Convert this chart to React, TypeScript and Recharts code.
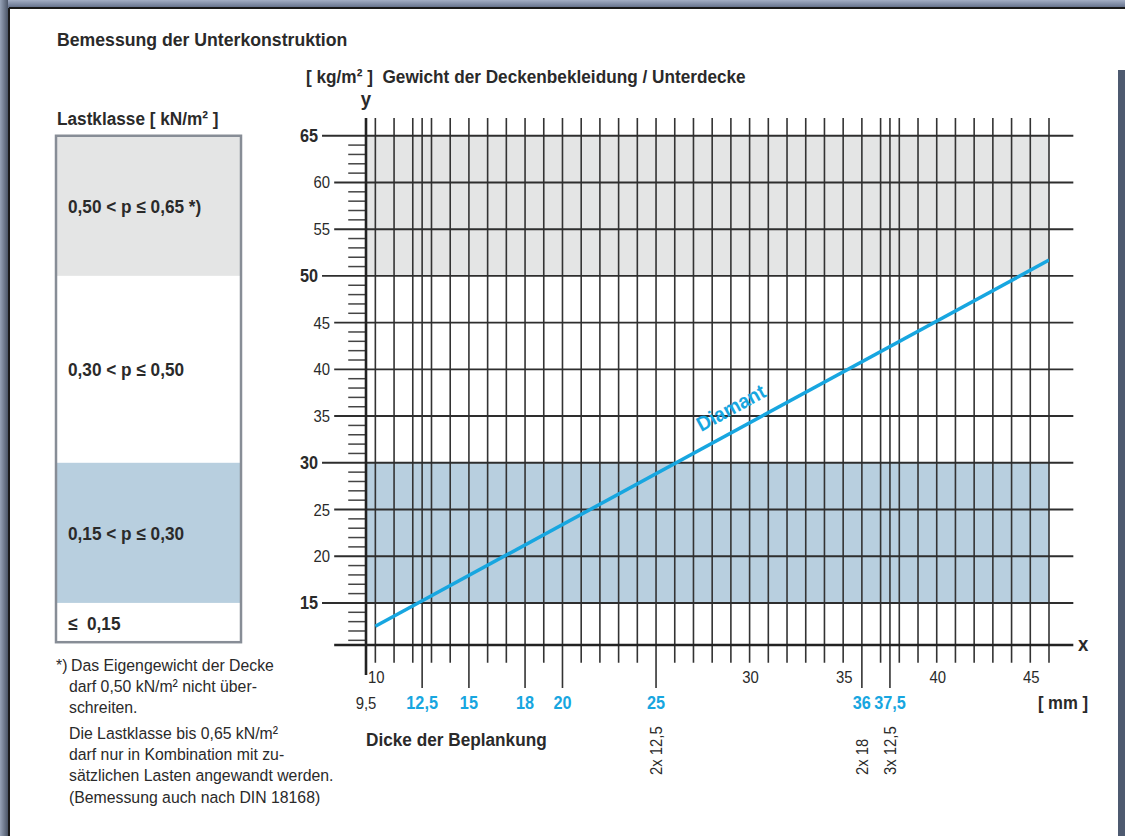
import React from "react";
import { ComposedChart, Line, XAxis, YAxis, ReferenceLine, ReferenceArea, ReferenceDot } from "recharts";

const FONT = '"Liberation Sans", Arial, sans-serif';
const SQUEEZE = 0.93; // the original uses a slightly condensed grotesk
const INK = "#2a2a2a";
const BLUE = "#17a6e0";
const GRAY_BAND = "#e4e5e5";
const BLUE_BAND = "#b8cfdf";

// Diamant: Dicke [mm] -> Gewicht [kg/m²]
const diamantData = [
  { mm: 10, kg: 12.5 },
  { mm: 46, kg: 51.7 },
];

// vertical grid (mm)
const gridMm = [10, 11, 12, 12.5, 13, 14, 15, 16, 17, 18, 19, 20, 21, 22, 23, 24, 25, 26, 27, 28, 29, 30,
  31, 32, 33, 34, 35, 36, 37, 37.5, 38, 39, 40, 41, 42, 43, 44, 45, 46];
const plateMm = [12.5, 15, 18, 20, 25, 36, 37.5];
const plateLabels = ["12,5", "15", "18", "20", "25", "36", "37,5"];
const plainMm = [10, 30, 35, 40, 45];
const layerLabels: Record<string, string> = { "25": "2x 12,5", "36": "2x 18", "37.5": "3x 12,5" };
const mmTicks = [9.5, 10, 12.5, 15, 18, 20, 25, 30, 35, 36, 37.5, 40, 45];

// y axis (kg/m²)
const kgTicks = [15, 20, 25, 30, 35, 40, 45, 50, 55, 60, 65];
const kgBold = [15, 30, 50, 65];
const kgMinor = [11, 12, 13, 14, 16, 17, 18, 19, 21, 22, 23, 24, 26, 27, 28, 29, 31, 32, 33, 34, 36, 37, 38, 39,
  41, 42, 43, 44, 46, 47, 48, 49, 51, 52, 53, 54, 56, 57, 58, 59, 61, 62, 63, 64];

const lastklassen = [
  { label: "0,50 < p ≤ 0,65 *)", from: 50, to: 65, fill: GRAY_BAND },
  { label: "0,30 < p ≤ 0,50", from: 30, to: 50, fill: "#ffffff" },
  { label: "0,15 < p ≤ 0,30", from: 15, to: 30, fill: BLUE_BAND },
  { label: "≤\u00a0\u00a00,15", from: 10.8, to: 15, fill: "#ffffff" },
];

const footnote = [
  "Das Eigengewicht der Decke",
  "darf 0,50 kN/m² nicht über-",
  "schreiten.",
  "Die Lastklasse bis 0,65 kN/m²",
  "darf nur in Kombination mit zu-",
  "sätzlichen Lasten angewandt werden.",
  "(Bemessung auch nach DIN 18168)",
];
const footBase = [671, 692, 713, 739, 760, 781, 803];

// chart frame
const W = 1125;
const H = 836;
const PLOT_L = 366;
const PLOT_R = 1049;
const PLOT_T = 118;
const PLOT_B = 645;
const X_DOM: [number, number] = [9.5, 46];
const Y_DOM: [number, number] = [10.5, 66.9];

const kgToPx = (v: number) => PLOT_B - ((v - Y_DOM[0]) / (Y_DOM[1] - Y_DOM[0])) * (PLOT_B - PLOT_T);

type TProps = {
  x: number;
  y: number;
  size?: number;
  bold?: boolean;
  anchor?: "start" | "middle" | "end";
  fill?: string;
  rotate?: number;
  baseline?: string;
  children: React.ReactNode;
};

// condensed text: horizontal squeeze along the text direction
const T = ({ x, y, size = 16, bold, anchor = "start", fill = INK, rotate, baseline, children }: TProps) => (
  <text
    transform={`translate(${x} ${y})${rotate ? ` rotate(${rotate})` : ""} scale(${SQUEEZE} 1)`}
    fontSize={size}
    fontWeight={bold ? "bold" : "normal"}
    textAnchor={anchor}
    dominantBaseline={baseline}
    fill={fill}
    fontFamily={FONT}
  >
    {children}
  </text>
);

const MmTick = ({ x, y, payload }: any) => {
  const v = payload.value;
  if (plainMm.includes(v)) {
    return <T x={x + 1} y={y + 38} anchor="middle">{v}</T>;
  }
  if (v === 9.5) {
    return <T x={x} y={y + 64} anchor="middle">9,5</T>;
  }
  const i = plateMm.indexOf(v);
  const layer = layerLabels[String(v)];
  return (
    <g>
      <T x={x} y={y + 64} anchor="middle" size={17.5} bold fill={BLUE}>{plateLabels[i]}</T>
      {layer && <T x={x + 6} y={y + 130} rotate={-90}>{layer}</T>}
    </g>
  );
};

const KgTick = ({ x, y, payload }: any) => {
  const v = payload.value;
  const bold = kgBold.includes(v);
  return (
    <T x={bold ? x - 48 : x - 36} y={y + 6} anchor="end" size={bold ? 17.5 : 16} bold={bold}>
      {v}
    </T>
  );
};

const DiamantLabel = ({ cx, cy }: any) => (
  <T x={cx} y={cy} rotate={-28.6} anchor="middle" baseline="central" size={20.5} bold fill={BLUE}>
    Diamant
  </T>
);

const Backdrop = () => (
  <svg width={W} height={H} style={{ position: "absolute", left: 0, top: 0 }}>
    <defs>
      <linearGradient id="lb" x1="0" x2="1" y1="0" y2="0">
        <stop offset="0" stopColor="#97a3b8" />
        <stop offset="1" stopColor="#4b5567" />
      </linearGradient>
      <linearGradient id="tb" x1="0" x2="0" y1="0" y2="1">
        <stop offset="0" stopColor="#a3aec4" />
        <stop offset="1" stopColor="#5e6b86" />
      </linearGradient>
    </defs>
    <rect x={0} y={0} width={W} height={H} fill="#ffffff" />
    <rect x={0} y={0} width={W} height={8} fill="url(#tb)" />
    <rect x={0} y={0} width={8} height={H} fill="url(#lb)" />
    <rect x={W - 7} y={70} width={7} height={H - 70} fill="#4e5a70" />
    <line x1={9} y1={8} x2={W} y2={8} stroke="#1a1a1a" strokeWidth={2} />
    <line x1={9} y1={8} x2={9} y2={H} stroke="#1a1a1a" strokeWidth={2} />

    <T x={57} y={46} size={19} bold>Bemessung der Unterkonstruktion</T>
    <T x={57} y={125} size={18.5} bold>Lastklasse [ kN/m² ]</T>
    <T x={306} y={83} size={18.5} bold>{"[ kg/m² ]\u00a0\u00a0Gewicht der Deckenbekleidung / Unterdecke"}</T>
    <T x={366} y={106} size={20} bold anchor="middle">y</T>
    <T x={1078} y={651} size={20} bold>x</T>
    <T x={1063} y={709} size={18} bold anchor="middle">[ mm ]</T>
    <T x={366} y={746} size={18.5} bold>Dicke der Beplankung</T>

    {lastklassen.map((k) => (
      <rect key={k.label} x={56} y={kgToPx(k.to)} width={185} height={kgToPx(k.from) - kgToPx(k.to)} fill={k.fill} />
    ))}
    <rect x={56} y={kgToPx(65)} width={185} height={kgToPx(10.8) - kgToPx(65)} fill="none" stroke="#878d96" strokeWidth={2.5} />
    {lastklassen.map((k) => (
      <T key={k.label + "t"} x={68} y={(kgToPx(k.from) + kgToPx(k.to)) / 2 + 7} size={18.5} bold>
        {k.label}
      </T>
    ))}

    <T x={56} y={footBase[0]} size={17}>*)</T>
    {footnote.map((t, i) => (
      <T key={t} x={i === 0 ? 71 : 69} y={footBase[i]} size={17}>{t}</T>
    ))}
  </svg>
);

export default function App() {
  return (
    <div style={{ position: "absolute", left: 0, top: 0, width: W, height: H, overflow: "hidden" }}>
      <Backdrop />
      <div style={{ position: "absolute", left: 0, top: 0 }}>
        <ComposedChart
          width={W}
          height={H}
          data={diamantData}
          margin={{ top: PLOT_T, right: W - PLOT_R, bottom: 0, left: 0 }}
        >
          <XAxis
            dataKey="mm"
            type="number"
            domain={X_DOM}
            allowDataOverflow
            ticks={mmTicks}
            interval={0}
            height={H - PLOT_B}
            tickSize={0}
            tickMargin={0}
            axisLine={false}
            tickLine={false}
            tick={<MmTick />}
          />
          <YAxis
            type="number"
            domain={Y_DOM}
            allowDataOverflow
            ticks={kgTicks}
            interval={0}
            width={PLOT_L}
            tickSize={0}
            tickMargin={0}
            axisLine={false}
            tickLine={false}
            tick={<KgTick />}
          />

          <ReferenceArea x1={9.5} x2={46} y1={50} y2={65} fill={GRAY_BAND} fillOpacity={1} stroke="none" ifOverflow="visible" />
          <ReferenceArea x1={9.5} x2={46} y1={15} y2={30} fill={BLUE_BAND} fillOpacity={1} stroke="none" ifOverflow="visible" />

          {gridMm.map((v) => (
            <ReferenceLine
              key={"v" + v}
              segment={[{ x: v, y: plateMm.includes(v) ? 5.9 : 8.6 }, { x: v, y: 66.9 }]}
              stroke="#333333"
              strokeWidth={1.6}
              ifOverflow="visible"
            />
          ))}
          {kgTicks.map((v) => (
            <ReferenceLine
              key={"h" + v}
              segment={[{ x: kgBold.includes(v) ? 7.15 : 7.8, y: v }, { x: 47.3, y: v }]}
              stroke="#2e2e2e"
              strokeWidth={1.9}
              ifOverflow="visible"
            />
          ))}
          {kgMinor.map((v) => (
            <ReferenceLine
              key={"m" + v}
              segment={[{ x: 8.55, y: v }, { x: 9.5, y: v }]}
              stroke="#444444"
              strokeWidth={1.5}
              ifOverflow="visible"
            />
          ))}
          <ReferenceLine segment={[{ x: 9.5, y: 7.3 }, { x: 9.5, y: 66.9 }]} stroke="#222" strokeWidth={2.6} ifOverflow="visible" />
          <ReferenceLine segment={[{ x: 7.8, y: 10.5 }, { x: 47.3, y: 10.5 }]} stroke="#222" strokeWidth={2.6} ifOverflow="visible" />

          <Line
            dataKey="kg"
            type="linear"
            stroke={BLUE}
            strokeWidth={3.5}
            dot={false}
            activeDot={false}
            isAnimationActive={false}
          />
          <ReferenceDot x={29.0} y={35.9} r={1} ifOverflow="visible" shape={<DiamantLabel />} />
        </ComposedChart>
      </div>
    </div>
  );
}
